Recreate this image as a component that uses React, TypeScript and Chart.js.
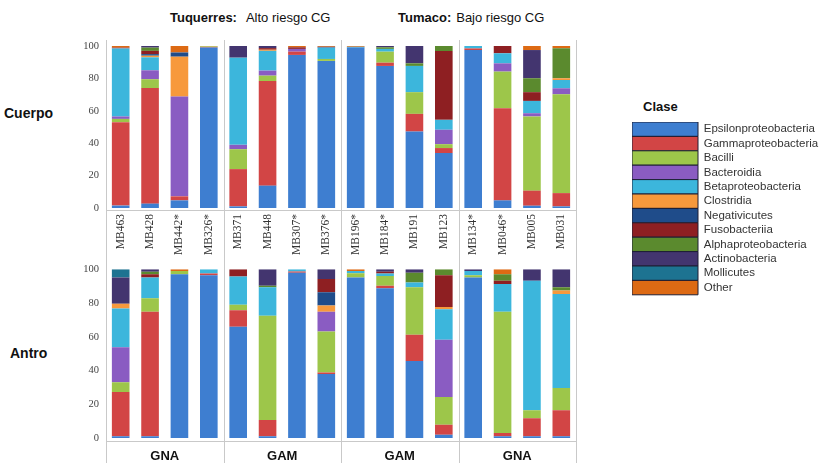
import React, { useEffect, useRef } from 'react';
import { Chart, registerables } from 'chart.js';

Chart.register(...registerables);

// Samples (x categories), shared by both panels
const samples = [
  'MB463', 'MB428', 'MB442*', 'MB326*',
  'MB371', 'MB448', 'MB307*', 'MB376*',
  'MB196*', 'MB184*', 'MB191', 'MB123',
  'MB134*', 'MB046*', 'MB005', 'MB031',
];
const groupNames = ['GNA', 'GAM', 'GAM', 'GNA'];

const classNames = [
  'Epsilonproteobacteria', 'Gammaproteobacteria', 'Bacilli', 'Bacteroidia',
  'Betaproteobacteria', 'Clostridia', 'Negativicutes', 'Fusobacteriia',
  'Alphaproteobacteria', 'Actinobacteria', 'Mollicutes', 'Other',
];
const classColors = [
  '#3e7ed0', '#d24545', '#9dc64a', '#8a5cc2',
  '#3cb6dc', '#f7993c', '#1f4c8a', '#8e1f22',
  '#5b8a2e', '#43356f', '#1d7391', '#dd6a14',
];

// Relative abundance (%) — Cuerpo
const cuerpoEpsilon = [1.5, 2.7, 4.7, 99, 1, 13.8, 94.5, 90.8, 99, 87.7, 47.2, 33.9, 97.5, 4.7, 1.4, 1];
const cuerpoGamma = [51.5, 71.3, 2.5, 0.3, 23, 64.6, 2, 0, 0, 2, 10.9, 3.1, 1, 56.9, 9.3, 8.2];
const cuerpoBacilli = [2, 5.5, 0, 0.4, 12.3, 3.3, 0, 1.2, 0, 6.8, 13.4, 2.4, 0, 22.6, 45.8, 61];
const cuerpoBacteroidia = [1.5, 5.5, 61.6, 0, 2.7, 3.1, 1.7, 0, 0, 0, 0, 8.9, 0, 5.1, 2, 3.7];
const cuerpoBeta = [42, 8, 0, 0, 53.8, 12.2, 0, 7, 0.5, 1.7, 16.2, 6.1, 1.5, 6.2, 7.6, 5.1];
const cuerpoClostridia = [0, 1, 24.6, 0, 0, 0.7, 0, 0, 0, 0, 0, 0, 0, 0, 0, 1.1];
const cuerpoNegativicutes = [0, 1, 2.6, 0, 0, 0, 0, 0, 0, 0, 0, 0, 0, 0, 0, 0];
const cuerpoFuso = [0.5, 2, 0, 0, 0, 1, 1, 0, 0, 0, 0, 42.5, 0, 4.5, 5.4, 0];
const cuerpoAlpha = [0, 2, 0, 0, 0, 0, 0, 0, 0, 1, 1.6, 3.1, 0, 0, 8.6, 18.5];
const cuerpoActino = [0, 1, 0, 0, 7.2, 1.3, 0, 0.5, 0, 0.8, 10.7, 0, 0, 0, 17.4, 0];
const cuerpoMollicutes = [0, 0, 0, 0, 0, 0, 0, 0, 0, 0, 0, 0, 0, 0, 0, 0];
const cuerpoOther = [1, 0, 4, 0.3, 0, 0, 0.8, 0.5, 0.5, 0, 0, 0, 0, 0, 2.5, 1.4];

// Relative abundance (%) — Antro
const antroEpsilon = [1, 1, 97.1, 96.5, 66, 1, 98, 37.9, 95.1, 88.7, 45.6, 1.9, 95.1, 1, 1, 1];
const antroGamma = [26.2, 73.8, 0, 1, 9.7, 9.7, 0.7, 0.9, 0, 1.6, 15.6, 5.9, 0, 1.9, 10.7, 15.5];
const antroBacilli = [5.8, 8.1, 1.9, 0, 3.3, 61.7, 0, 24.3, 2.5, 5.8, 28.1, 16.5, 1.4, 71.9, 4.8, 13.2];
const antroBacteroidia = [20.8, 0, 0, 0, 0, 0, 0, 11.7, 0, 0, 0, 34, 0, 0, 0, 0];
const antroBeta = [22.9, 12.2, 0, 2.5, 16.7, 16.9, 1.3, 0, 1.4, 1.4, 2.9, 18, 2.5, 16.5, 76.7, 55.7];
const antroClostridia = [2.9, 0, 0, 0, 0, 0, 0, 3.8, 0, 0, 0, 1.4, 0, 0, 0, 2];
const antroNegativicutes = [0, 0, 0, 0, 0, 0, 0, 7.8, 0, 0, 0, 0, 0, 0, 0, 0];
const antroFuso = [0, 2, 0, 0, 4.3, 0, 0, 7.8, 0, 1, 0, 18.8, 0, 1.9, 0, 0];
const antroAlpha = [0, 1.5, 0, 0, 0, 1, 0, 0, 0, 0, 5.8, 3.5, 0, 3.9, 0, 1.9];
const antroActino = [15.5, 1.4, 0, 0, 0, 9.7, 0, 5.8, 0, 1.5, 2, 0, 1, 0, 6.8, 10.7];
const antroMollicutes = [4.9, 0, 0, 0, 0, 0, 0, 0, 0, 0, 0, 0, 0, 0, 0, 0];
const antroOther = [0, 0, 1, 0, 0, 0, 0, 0, 1, 0, 0, 0, 0, 2.9, 0, 0];

const cuerpoSeries = [
  cuerpoEpsilon, cuerpoGamma, cuerpoBacilli, cuerpoBacteroidia, cuerpoBeta, cuerpoClostridia,
  cuerpoNegativicutes, cuerpoFuso, cuerpoAlpha, cuerpoActino, cuerpoMollicutes, cuerpoOther,
];
const antroSeries = [
  antroEpsilon, antroGamma, antroBacilli, antroBacteroidia, antroBeta, antroClostridia,
  antroNegativicutes, antroFuso, antroAlpha, antroActino, antroMollicutes, antroOther,
];

const SANS = '"Liberation Sans", Arial, Helvetica, sans-serif';
const SERIF = '"Liberation Serif", "Times New Roman", serif';
const FRAME = '#c9c9c9';

// Draws the light table frame: group separators and the base line under the bars
const panelFrame = {
  id: 'panelFrame',
  beforeDatasetsDraw(chart: any, _args: any, opts: any) {
    const { ctx, chartArea } = chart;
    const xs = chart.scales.x;
    const step = (xs.right - xs.left) / groupNames.length;
    ctx.save();
    ctx.strokeStyle = FRAME;
    ctx.lineWidth = 1;
    ctx.beginPath();
    for (let k = 0; k <= groupNames.length; k++) {
      const px = Math.round(xs.left + k * step) + 0.5;
      ctx.moveTo(px, opts.lineTop);
      ctx.lineTo(px, opts.lineBottom);
    }
    const hy = Math.round(chartArea.bottom + opts.baseGap) + 0.5;
    ctx.moveTo(xs.left, hy);
    ctx.lineTo(xs.right, hy);
    ctx.stroke();
    ctx.restore();
  },
};

function makeDatasets(series: number[][]) {
  return series.map((values, i) => ({
    label: classNames[i],
    data: values,
    backgroundColor: classColors[i],
    borderWidth: 0,
    barPercentage: 0.6,
    categoryPercentage: 1,
    xAxisID: 'x',
    yAxisID: 'y',
  }));
}

const yAxis = {
  stacked: true,
  min: 0,
  max: 100,
  grid: { display: false, drawTicks: false },
  border: { display: false },
  ticks: { stepSize: 20, padding: 7, color: '#444', font: { family: SERIF, size: 10.5 } },
  afterFit: (s: any) => { s.width = 106; },
};

export default function App() {
  const topRef = useRef<HTMLCanvasElement>(null);
  const bottomRef = useRef<HTMLCanvasElement>(null);
  const legendRef = useRef<HTMLCanvasElement>(null);

  useEffect(() => {
    const charts: Chart[] = [];

    // Cuerpo panel, with sample names under it
    charts.push(new Chart(topRef.current!, {
      type: 'bar',
      data: { labels: samples, datasets: makeDatasets(cuerpoSeries) as any },
      options: {
        responsive: false,
        animation: false,
        layout: { padding: { top: 46, right: 24, left: 0, bottom: 0 } },
        plugins: {
          legend: { display: false },
          tooltip: { enabled: false },
          panelFrame: { lineTop: 40, lineBottom: 256, baseGap: 1.5 },
        } as any,
        scales: {
          x: {
            stacked: true,
            grid: { display: false, drawTicks: false },
            border: { display: false },
            ticks: {
              autoSkip: false, minRotation: 90, maxRotation: 90, padding: 6,
              color: '#333', font: { family: SERIF, size: 11.5 },
            },
            afterFit: (s: any) => { s.height = 48; },
          },
          y: yAxis,
        } as any,
      },
      plugins: [panelFrame],
    }));

    // Antro panel, with group names under it
    charts.push(new Chart(bottomRef.current!, {
      type: 'bar',
      data: { labels: samples, datasets: makeDatasets(antroSeries) as any },
      options: {
        responsive: false,
        animation: false,
        layout: { padding: { top: 8, right: 24, left: 0, bottom: 0 } },
        plugins: {
          legend: { display: false },
          tooltip: { enabled: false },
          panelFrame: { lineTop: 0, lineBottom: 207, baseGap: 3 },
        } as any,
        scales: {
          x: { stacked: true, display: false },
          x2: {
            type: 'category',
            labels: groupNames,
            position: 'bottom',
            offset: true,
            grid: { display: false, drawTicks: false },
            border: { display: false },
            ticks: { padding: 11, color: '#111', font: { family: SANS, size: 13, weight: 'bold' } },
            afterFit: (s: any) => { s.height = 27; },
          },
          y: yAxis,
        } as any,
      },
      plugins: [panelFrame],
    }));

    // Class legend
    charts.push(new Chart(legendRef.current!, {
      type: 'bar',
      data: {
        labels: [],
        datasets: classNames.map((name, i) => ({
          label: name,
          data: [],
          backgroundColor: classColors[i],
          borderColor: '#1e1e34',
          borderWidth: 1,
        })),
      },
      options: {
        responsive: false,
        animation: false,
        plugins: {
          tooltip: { enabled: false },
          legend: {
            display: true,
            position: 'top',
            align: 'start',
            maxHeight: 200,
            labels: {
              boxWidth: 66,
              boxHeight: 14.4,
              padding: 0,
              color: '#333',
              font: { family: SANS, size: 11.5 },
            },
          },
        },
        scales: { x: { display: false }, y: { display: false } },
      },
    }));

    return () => charts.forEach((c) => c.destroy());
  }, []);

  const abs = (left: number, top: number): React.CSSProperties => ({
    position: 'absolute', left, top, whiteSpace: 'nowrap', lineHeight: '16px',
  });

  return (
    <div style={{ position: 'absolute', left: 0, top: 0, width: 822, height: 465, background: '#fff', fontFamily: SANS, color: '#111', overflow: 'hidden' }}>
      <div style={{ ...abs(170, 10), fontSize: 13 }}>
        <b>Tuquerres:</b><span style={{ marginLeft: 9 }}>Alto riesgo CG</span>
      </div>
      <div style={{ ...abs(398, 10), fontSize: 13 }}>
        <b>Tumaco:</b><span style={{ marginLeft: 5 }}>Bajo riesgo CG</span>
      </div>
      <div style={{ ...abs(4, 105), fontSize: 14, fontWeight: 'bold' }}>Cuerpo</div>
      <div style={{ ...abs(10, 345), fontSize: 14, fontWeight: 'bold' }}>Antro</div>
      <div style={{ ...abs(643, 99), fontSize: 13, fontWeight: 'bold' }}>Clase</div>
      <canvas ref={topRef} width={600} height={256} style={{ position: 'absolute', left: 0, top: 0 }} />
      <canvas ref={bottomRef} width={600} height={209} style={{ position: 'absolute', left: 0, top: 256 }} />
      <canvas ref={legendRef} width={190} height={200} style={{ position: 'absolute', left: 632, top: 122 }} />
    </div>
  );
}
